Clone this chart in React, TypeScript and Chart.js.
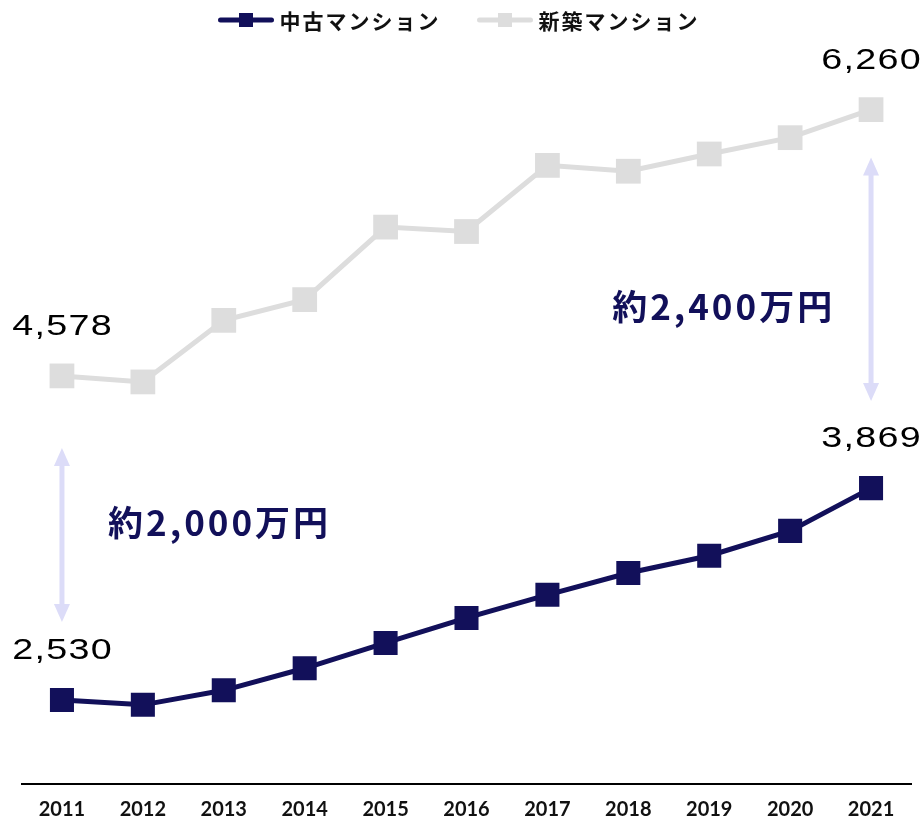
import React, { useEffect, useRef } from 'react';
import { Chart, registerables } from 'chart.js';

Chart.register(...registerables);

const years = ['2011', '2012', '2013', '2014', '2015', '2016', '2017', '2018', '2019', '2020', '2021'];
const usedPrices = [2530, 2500, 2592, 2731, 2891, 3049, 3195, 3333, 3442, 3599, 3869];
const newPrices = [4578, 4540, 4929, 5060, 5518, 5490, 5908, 5871, 5980, 6083, 6260];
const seriesNames = ['中古マンション', '新築マンション'];
const seriesColors = ['#12105a', '#dddddd'];
const gapTexts = ['約2,000万円', '約2,400万円'];
const gapTextIndex = [1.93, 8.16];
const gapTextValue = [3649, 5014];
const gapArrowIndex = [0, 10];
const gapArrowTop = [4123, 5957];
const gapArrowBottom = [3023, 4419];

const Y_MIN = 2000;
const Y_MAX = 6700;
const ARROW_COLOR = '#dcdcf8';
const TEXT_COLOR = '#12105a';

const overlayPlugin = {
  id: 'overlay',
  beforeDatasetsDraw(chart: any) {
    const { ctx, scales } = chart;
    const x = scales.x;
    const y = scales.y;
    ctx.save();
    ctx.fillStyle = ARROW_COLOR;
    for (let i = 0; i < gapArrowIndex.length; i++) {
      const px = x.getPixelForValue(gapArrowIndex[i]);
      const top = y.getPixelForValue(gapArrowTop[i]);
      const bot = y.getPixelForValue(gapArrowBottom[i]);
      const hw = 8;
      const hh = 18;
      const sw = 2.5;
      ctx.fillRect(px - sw, top + hh - 1, sw * 2, bot - top - 2 * hh + 2);
      ctx.beginPath();
      ctx.moveTo(px, top);
      ctx.lineTo(px + hw, top + hh);
      ctx.lineTo(px - hw, top + hh);
      ctx.closePath();
      ctx.fill();
      ctx.beginPath();
      ctx.moveTo(px, bot);
      ctx.lineTo(px + hw, bot - hh);
      ctx.lineTo(px - hw, bot - hh);
      ctx.closePath();
      ctx.fill();
    }
    ctx.fillStyle = TEXT_COLOR;
    ctx.font = 'bold 35px "Noto Sans CJK JP"';
    (ctx as any).letterSpacing = '3px';
    ctx.textAlign = 'left';
    ctx.textBaseline = 'middle';
    for (let i = 0; i < gapTexts.length; i++) {
      const w = ctx.measureText(gapTexts[i]).width - 3;
      ctx.fillText(gapTexts[i], x.getPixelForValue(gapTextIndex[i]) - w / 2, y.getPixelForValue(gapTextValue[i]));
    }
    ctx.restore();
  },
  afterDatasetsDraw(chart: any) {
    const { ctx } = chart;
    ctx.save();
    ctx.fillStyle = '#000000';
    ctx.font = '29px "Liberation Sans"';
    (ctx as any).letterSpacing = '1px';
    ctx.textAlign = 'left';
    ctx.textBaseline = 'alphabetic';
    const sx = 1.3;
    chart.data.datasets.forEach((ds: any, di: number) => {
      const meta = chart.getDatasetMeta(di);
      const n = ds.data.length;
      [0, n - 1].forEach((idx) => {
        const pt = meta.data[idx];
        const label = Number(ds.data[idx]).toLocaleString('en-US');
        const w = (ctx.measureText(label).width - 1) * sx;
        ctx.save();
        ctx.translate(pt.x - w / 2, pt.y - 41);
        ctx.scale(sx, 1);
        ctx.fillText(label, 0, 0);
        ctx.restore();
      });
    });
    ctx.restore();
  },
  afterDraw(chart: any) {
    const { ctx, width } = chart;
    ctx.save();
    ctx.font = 'bold 21px "Noto Sans CJK JP"';
    (ctx as any).letterSpacing = '2px';
    const lineW = 55;
    const gapMarkText = 6;
    const gapItems = 39;
    const widths = seriesNames.map((s) => ctx.measureText(s).width - 2);
    const total = widths.reduce((a, b) => a + b, 0) + seriesNames.length * (lineW + gapMarkText) + gapItems * (seriesNames.length - 1);
    let cx = width / 2 - 3.5 - total / 2;
    const cy = 20;
    ctx.textBaseline = 'middle';
    ctx.textAlign = 'left';
    seriesNames.forEach((name, i) => {
      ctx.strokeStyle = seriesColors[i];
      ctx.fillStyle = seriesColors[i];
      ctx.lineWidth = 5;
      ctx.lineCap = 'round';
      ctx.beginPath();
      ctx.moveTo(cx + 2, cy);
      ctx.lineTo(cx + lineW - 2, cy);
      ctx.stroke();
      ctx.fillRect(cx + lineW / 2 - 7, cy - 7, 14, 14);
      cx += lineW + gapMarkText;
      ctx.fillStyle = '#111111';
      ctx.fillText(name, cx, cy + 1);
      cx += widths[i] + gapItems;
    });
    ctx.restore();
  },
};

export default function App() {
  const ref = useRef<HTMLCanvasElement | null>(null);
  useEffect(() => {
    if (!ref.current) return;
    const chart = new Chart(ref.current, {
      type: 'line',
      data: {
        labels: years,
        datasets: [
          {
            label: seriesNames[0],
            data: usedPrices,
            borderColor: seriesColors[0],
            backgroundColor: seriesColors[0],
            borderWidth: 5,
            pointStyle: 'rect',
            pointRadius: 17,
            pointHoverRadius: 17,
            pointBorderWidth: 0,
            pointBackgroundColor: seriesColors[0],
            tension: 0,
          },
          {
            label: seriesNames[1],
            data: newPrices,
            borderColor: seriesColors[1],
            backgroundColor: seriesColors[1],
            borderWidth: 5,
            pointStyle: 'rect',
            pointRadius: 17.5,
            pointHoverRadius: 17.5,
            pointBorderWidth: 0,
            pointBackgroundColor: seriesColors[1],
            tension: 0,
          },
        ],
      },
      options: {
        responsive: false,
        animation: false,
        layout: { autoPadding: false, padding: { left: 21.5, right: 11.5, top: 40, bottom: 0 } },
        plugins: { legend: { display: false }, tooltip: { enabled: false } },
        scales: {
          x: {
            offset: true,
            grid: { display: false, drawTicks: false },
            border: { display: true, color: '#000000', width: 2 },
            ticks: {
              color: '#111111',
              padding: 14,
              font: { family: 'Lato', size: 20, weight: 'bold' },
              maxRotation: 0,
              autoSkip: false,
            },
            afterFit: (scale: any) => {
              scale.height = 38;
              scale.paddingLeft = 0;
              scale.paddingRight = 0;
            },
          },
          y: {
            display: false,
            min: Y_MIN,
            max: Y_MAX,
          },
        },
      },
      plugins: [overlayPlugin],
    });
    return () => chart.destroy();
  }, []);
  return (
    <div style={{ position: 'absolute', left: 0, top: 0, width: 923, height: 822 }}>
      <canvas ref={ref} width={923} height={822} style={{ display: 'block' }} />
    </div>
  );
}
